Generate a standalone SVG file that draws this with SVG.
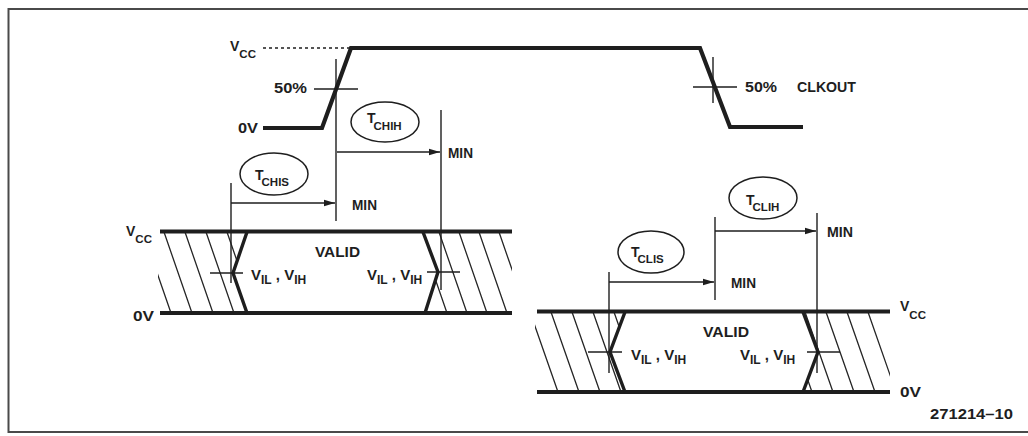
<svg xmlns="http://www.w3.org/2000/svg" width="1028" height="436" viewBox="0 0 1028 436">
<style>
.t{font-family:"Liberation Sans",Arial,sans-serif;font-weight:bold;fill:#1e1e1e;font-size:14px}
.s{font-size:11.5px}
.v{font-size:15px}
.v .s{font-size:12px}
.thick{fill:none;stroke:#1e1e1e;stroke-width:4.2;stroke-linejoin:miter}
.edge{fill:none;stroke:#1e1e1e;stroke-width:3.4;stroke-linejoin:miter}
.thin{fill:none;stroke:#1e1e1e;stroke-width:1.4}
.hatch{fill:none;stroke:#262626;stroke-width:1.3}
.oval{fill:none;stroke:#1e1e1e;stroke-width:1.5}
.frame{fill:none;stroke:#4a4a4a;stroke-width:2}
</style>
<defs>
<marker id="ah" markerUnits="userSpaceOnUse" markerWidth="11" markerHeight="8" refX="11" refY="4" orient="auto">
<path d="M0,0.8 L11,4 L0,7.2 z" fill="#1e1e1e"/>
</marker>
<clipPath id="c1L"><polygon points="158,229 247,229 233,273 247,316 158,316"/></clipPath>
<clipPath id="c1R"><polygon points="423,229 512,229 512,316 425,316 438,272"/></clipPath>
<clipPath id="c2L"><polygon points="535,309 625,309 610,352 625,395 535,395"/></clipPath>
<clipPath id="c2R"><polygon points="803,309 890,309 890,395 803,395 818,352"/></clipPath>
</defs>
<rect width="1028" height="436" fill="#ffffff"/>
<g id="frame">
<path class="frame" d="M1028,9 L8.5,9 L8.5,432 L1028,432"/>
<text class="t" x="1013" y="419" text-anchor="end" font-size="15" font-weight="normal" textLength="83" lengthAdjust="spacingAndGlyphs">271214–10</text>
</g>
<g id="clkout">
<path class="thick" d="M263,128 L322,128 L351,48 L700,48 L730,127 L803,127"/>
<line class="thin" x1="263" y1="48" x2="350" y2="48" stroke-dasharray="3,3" stroke-width="1.1"/>
<text class="t" x="230" y="51">V<tspan class="s" dy="7">CC</tspan></text>
<text class="t" x="238" y="133" font-size="15" textLength="20" lengthAdjust="spacingAndGlyphs">0V</text>
<text class="t" x="274" y="93" font-size="15" textLength="33" lengthAdjust="spacingAndGlyphs">50%</text>
<line class="thin" x1="314" y1="89" x2="358" y2="89"/>
<line class="thin" x1="713" y1="57" x2="713" y2="103"/>
<line class="thin" x1="693" y1="87" x2="737" y2="87"/>
<text class="t" x="745" y="92" font-size="16" textLength="32" lengthAdjust="spacingAndGlyphs">50%</text>
<text class="t" x="797" y="92" font-size="16" textLength="59" lengthAdjust="spacingAndGlyphs">CLKOUT</text>
</g>
<g id="bus1">
<g clip-path="url(#c1L)">
<path class="hatch" d="M143,232 L171,313 M164,232 L192,313 M185,232 L213,313 M206,232 L234,313 M227,232 L255,313"/>
</g>
<g clip-path="url(#c1R)">
<path class="hatch" d="M419,232 L447,313 M439,232 L467,313 M459,232 L487,313 M479,232 L507,313 M499,232 L527,313"/>
</g>
<line class="thick" x1="160" y1="231.5" x2="512" y2="231.5" stroke-width="4.6"/>
<line class="thick" x1="160" y1="313" x2="512" y2="313" stroke-width="4.6"/>
<path class="edge" d="M247,232 L233,273 L247,313"/>
<path class="edge" d="M423,232 L438,272 L425,313"/>
<line class="thin" x1="210" y1="273" x2="243" y2="273"/>
<line class="thin" x1="427" y1="272" x2="460" y2="272"/>
<text class="t" x="126" y="236">V<tspan class="s" dy="7">CC</tspan></text>
<text class="t" x="133" y="321" font-size="15" textLength="21" lengthAdjust="spacingAndGlyphs">0V</text>
<text class="t" x="315" y="257" font-size="17" textLength="45" lengthAdjust="spacingAndGlyphs">VALID</text>
<text class="t v" x="251" y="280">V<tspan class="s" dy="4">IL</tspan><tspan dy="-4"> , V</tspan><tspan class="s" dy="4">IH</tspan></text>
<text class="t v" x="367" y="280">V<tspan class="s" dy="4">IL</tspan><tspan dy="-4"> , V</tspan><tspan class="s" dy="4">IH</tspan></text>
</g>
<g id="bus2">
<g clip-path="url(#c2L)">
<path class="hatch" d="M530,312 L558,392 M551,312 L579,392 M572,312 L600,392 M593,312 L621,392 M614,312 L642,392"/>
</g>
<g clip-path="url(#c2R)">
<path class="hatch" d="M784,312 L812,392 M805,312 L833,392 M826,312 L854,392 M847,312 L875,392 M868,312 L896,392"/>
</g>
<line class="thick" x1="537" y1="311.5" x2="890" y2="311.5" stroke-width="4.6"/>
<line class="thick" x1="537" y1="392" x2="890" y2="392" stroke-width="4.6"/>
<path class="edge" d="M625,312 L610,352 L625,392"/>
<path class="edge" d="M803,312 L818,352 L803,392"/>
<line class="thin" x1="588" y1="352" x2="622" y2="352"/>
<line class="thin" x1="807" y1="352" x2="840" y2="352"/>
<text class="t" x="900" y="311">V<tspan class="s" dy="8">CC</tspan></text>
<text class="t" x="900" y="397" font-size="15" textLength="21" lengthAdjust="spacingAndGlyphs">0V</text>
<text class="t" x="703" y="337" font-size="17" textLength="46" lengthAdjust="spacingAndGlyphs">VALID</text>
<text class="t v" x="631" y="360">V<tspan class="s" dy="4">IL</tspan><tspan dy="-4"> , V</tspan><tspan class="s" dy="4">IH</tspan></text>
<text class="t v" x="740" y="360">V<tspan class="s" dy="4">IL</tspan><tspan dy="-4"> , V</tspan><tspan class="s" dy="4">IH</tspan></text>
</g>
<g id="tchih">
<ellipse class="oval" cx="385" cy="122" rx="34" ry="20"/>
<text class="t" x="367" y="123">T<tspan class="s" dx="-2" dy="7">CHIH</tspan></text>
<text class="t" x="448" y="158" font-size="15" textLength="25" lengthAdjust="spacingAndGlyphs">MIN</text>
</g>
<g id="tchis">
<ellipse class="oval" cx="274" cy="174" rx="34" ry="21"/>
<text class="t" x="255" y="180">T<tspan class="s" dx="-2" dy="6">CHIS</tspan></text>
<text class="t" x="352" y="210" font-size="15" textLength="25" lengthAdjust="spacingAndGlyphs">MIN</text>
</g>
<g id="tclih">
<ellipse class="oval" cx="763" cy="198" rx="34" ry="21"/>
<text class="t" x="746" y="205">T<tspan class="s" dx="-2" dy="6">CLIH</tspan></text>
<text class="t" x="827" y="237" font-size="15" textLength="26" lengthAdjust="spacingAndGlyphs">MIN</text>
</g>
<g id="tclis">
<ellipse class="oval" cx="651" cy="252" rx="33" ry="21"/>
<text class="t" x="631" y="257">T<tspan class="s" dx="-2" dy="6">CLIS</tspan></text>
<text class="t" x="731" y="288" font-size="15" textLength="25" lengthAdjust="spacingAndGlyphs">MIN</text>
</g>
<g id="connectors">
<line class="thin" x1="336" y1="59" x2="336" y2="221"/>
<line class="thin" x1="441" y1="110" x2="441" y2="290"/>
<line class="thin" x1="231" y1="183" x2="231" y2="283"/>
<line class="thin" x1="715" y1="217" x2="715" y2="300"/>
<line class="thin" x1="817" y1="213" x2="817" y2="373"/>
<line class="thin" x1="609" y1="272" x2="609" y2="373"/>
<line class="thin" x1="337" y1="152" x2="440" y2="152" marker-end="url(#ah)"/>
<line class="thin" x1="231" y1="203" x2="335" y2="203" marker-end="url(#ah)"/>
<line class="thin" x1="715" y1="231" x2="816" y2="231" marker-end="url(#ah)"/>
<line class="thin" x1="609" y1="282" x2="714" y2="282" marker-end="url(#ah)"/>
</g>
</svg>
